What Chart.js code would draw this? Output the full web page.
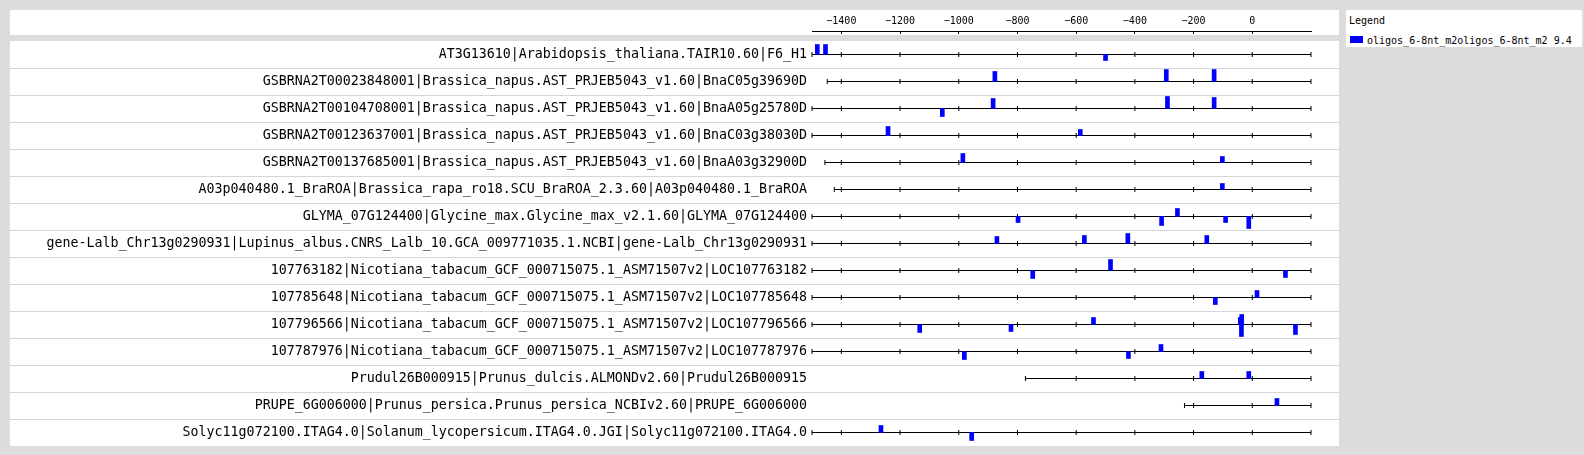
<!DOCTYPE html>
<html>
<head>
<meta charset="utf-8">
<script src="https://cdn.jsdelivr.net/npm/chart.js@4.4.1/dist/chart.umd.min.js"></script>
<style>
html,body{margin:0;padding:0;background:#dcdcdc;}
#wrap{position:relative;width:1584px;height:455px;overflow:hidden;background:#dcdcdc;}
#c{position:absolute;left:0;top:0;}
#legend{position:absolute;left:1346px;top:10px;width:236px;height:37px;background:#fff;font-family:"DejaVu Sans Mono",monospace;font-size:10px;color:#000;}
#legend .lt{position:absolute;left:3px;top:4px;line-height:13px;white-space:nowrap;}
#legend .sw{position:absolute;left:4px;top:26px;width:13px;height:7px;background:#0000ff;}
#legend .tx{position:absolute;left:21px;top:24px;line-height:13px;white-space:nowrap;}
</style>
</head>
<body>
<div id="wrap">
  <canvas id="c" width="1584" height="455"></canvas>
  <div id="legend"><div class="lt">Legend</div><div class="sw"></div><div class="tx" id="ltx"></div></div>
</div>
<script>
// ---------------- data ----------------
const genes = [
  "AT3G13610|Arabidopsis_thaliana.TAIR10.60|F6_H1",
  "GSBRNA2T00023848001|Brassica_napus.AST_PRJEB5043_v1.60|BnaC05g39690D",
  "GSBRNA2T00104708001|Brassica_napus.AST_PRJEB5043_v1.60|BnaA05g25780D",
  "GSBRNA2T00123637001|Brassica_napus.AST_PRJEB5043_v1.60|BnaC03g38030D",
  "GSBRNA2T00137685001|Brassica_napus.AST_PRJEB5043_v1.60|BnaA03g32900D",
  "A03p040480.1_BraROA|Brassica_rapa_ro18.SCU_BraROA_2.3.60|A03p040480.1_BraROA",
  "GLYMA_07G124400|Glycine_max.Glycine_max_v2.1.60|GLYMA_07G124400",
  "gene-Lalb_Chr13g0290931|Lupinus_albus.CNRS_Lalb_10.GCA_009771035.1.NCBI|gene-Lalb_Chr13g0290931",
  "107763182|Nicotiana_tabacum_GCF_000715075.1_ASM71507v2|LOC107763182",
  "107785648|Nicotiana_tabacum_GCF_000715075.1_ASM71507v2|LOC107785648",
  "107796566|Nicotiana_tabacum_GCF_000715075.1_ASM71507v2|LOC107796566",
  "107787976|Nicotiana_tabacum_GCF_000715075.1_ASM71507v2|LOC107787976",
  "Prudul26B000915|Prunus_dulcis.ALMONDv2.60|Prudul26B000915",
  "PRUPE_6G006000|Prunus_persica.Prunus_persica_NCBIv2.60|PRUPE_6G006000",
  "Solyc11g072100.ITAG4.0|Solanum_lycopersicum.ITAG4.0.JGI|Solyc11g072100.ITAG4.0"
];
const regionStart = [-1500,-1448,-1500,-1500,-1456,-1424,-1500,-1500,-1500,-1500,-1500,-1500,-773,-231,-1500];
const regionEnd = 200;
const axisTicks = [-1400,-1200,-1000,-800,-600,-400,-200,0];
const motifName = "oligos_6-8nt_m2oligos_6-8nt_m2 9.4";
// binding sites: row index, position, signed score (+ forward strand, - reverse strand)
const siteRow = [0,0,0, 1,1,1, 2,2,2,2, 3,3, 4,4, 5, 6,6,6,6,6, 7,7,7,7, 8,8,8, 9,9, 10,10,10,10,10,10,10, 11,11,11, 12,12, 13, 14,14];
const sitePos = [-1482,-1454,-500, -877,-293,-130, -883,-289,-130,-1056, -1241,-586, -986,-102, -102,
                 -798,-309,-255,-91,-12, -870,-572,-424,-155, -748,-483,113, -126,16,
                 -1133,-822,-541,-41,-36,-37,147, -981,-422,-311, -172,-12, 84, -1265,-956];
const siteScore = [10,10,-6, 10,12,12, 10,12,11,-8, 9,6, 9,6, 6,
                   -6,-9,8,-6,-12, 7,8,10,8, -8,11,-7, -7,7,
                   -8,-7,7,7,10,-12,-10, -8,-7,7, 7,7, 7, 7,-8];

// ---------------- layout constants ----------------
const ROW = 27;
const BLUE = '#0000ff';
const base = i => -i * ROW;

document.getElementById('ltx').textContent = motifName;

const barData = siteRow.map((r, k) => {
  const b = base(r), s = siteScore[k];
  return { x: sitePos[k], y: s >= 0 ? [b, b + s] : [b + s, b] };
});

const lineSets = genes.map((g, i) => ({
  type: 'line',
  label: 'region ' + i,
  data: [{ x: regionStart[i], y: base(i) }, { x: regionEnd, y: base(i) }],
  borderColor: '#000', borderWidth: 1, pointRadius: 0, fill: false,
  order: 2, clip: false, tension: 0
}));

const tickData = [];
genes.forEach((g, i) => {
  tickData.push({ x: regionStart[i], y: base(i) });
  axisTicks.filter(t => t > regionStart[i] && t < regionEnd).forEach(t => tickData.push({ x: t, y: base(i) }));
  tickData.push({ x: regionEnd, y: base(i) });
});

const bgPlugin = {
  id: 'bg',
  beforeDraw(chart) {
    const ctx = chart.ctx, y = chart.scales.y;
    ctx.save();
    ctx.fillStyle = '#dcdcdc';
    ctx.fillRect(0, 0, chart.width, chart.height);
    ctx.fillStyle = '#ffffff';
    const top = Math.round(y.getPixelForValue(base(0) + ROW / 2));
    const bot = Math.round(y.getPixelForValue(base(genes.length - 1) - ROW / 2));
    ctx.fillRect(10, 10, 1329, top - 6 - 10);
    ctx.fillRect(10, top, 1329, bot - top);
    ctx.fillStyle = '#d6d6d6';
    for (let i = 1; i < genes.length; i++) {
      const p = Math.round(y.getPixelForValue(base(i) + ROW / 2));
      ctx.fillRect(10, p, 1329, 1);
    }
    ctx.restore();
  }
};

new Chart(document.getElementById('c'), {
  type: 'bar',
  data: {
    datasets: [
      {
        type: 'bar', label: motifName, data: barData,
        backgroundColor: BLUE, borderWidth: 0, barThickness: 4,
        order: 0, clip: false, grouped: false
      },
      {
        type: 'scatter', label: 'ticks', data: tickData,
        pointStyle: 'line', rotation: 90, pointRadius: 2.5, pointBorderWidth: 1,
        pointBorderColor: '#000', borderColor: '#000', showLine: false,
        pointHoverRadius: 2.5, order: 1, clip: false
      },
      ...lineSets
    ]
  },
  options: {
    responsive: false, animation: false, devicePixelRatio: 1,
    layout: { autoPadding: false, padding: { left: 0, right: 273, top: 0, bottom: 0 } },
    plugins: { legend: { display: false }, tooltip: { enabled: false }, title: { display: false } },
    events: [],
    scales: {
      x: {
        type: 'linear', position: 'top', min: -1500, max: 200, offset: false,
        afterBuildTicks: s => { s.ticks = axisTicks.map(v => ({ value: v })); },
        afterFit: s => { s.height = 31; s.paddingLeft = 0; s.paddingRight = 0; },
        ticks: {
          autoSkip: false, maxRotation: 0, minRotation: 0, padding: 7, color: '#000',
          font: { family: 'DejaVu Sans Mono', size: 10 },
          callback: v => String(v).replace('-', '\u2212')
        },
        grid: { display: true, offset: false, drawOnChartArea: false, drawTicks: true, tickLength: -3, color: '#000', lineWidth: 1 },
        border: { display: true, color: '#000', width: 1 }
      },
      y: {
        type: 'linear', min: -400.5, max: 23.5,
        afterBuildTicks: s => { s.ticks = genes.map((g, i) => ({ value: base(i) })); },
        afterFit: s => { s.width = 812; s.paddingTop = 0; s.paddingBottom = 0; },
        ticks: {
          autoSkip: false, padding: 5, color: '#000',
          font: { family: 'DejaVu Sans Mono', size: 13.3 },
          callback: v => genes[Math.round(-v / ROW)]
        },
        grid: { display: false, drawTicks: false },
        border: { display: false }
      }
    }
  },
  plugins: [bgPlugin]
});
</script>
</body>
</html>
